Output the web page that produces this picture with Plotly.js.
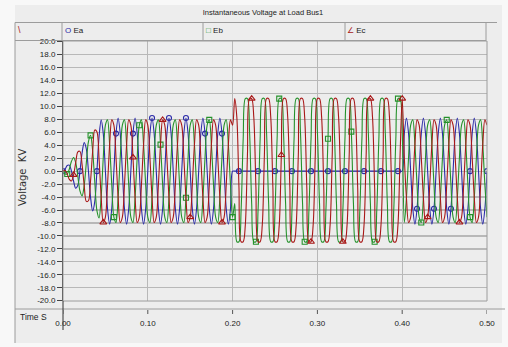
<!DOCTYPE html>
<html><head><meta charset="utf-8">
<script src="https://cdn.plot.ly/plotly-3.0.1.min.js"></script>
<style>html,body{margin:0;padding:0;background:#f8f8f8;}#chart{width:508px;height:347px;}</style>
</head><body><div id="chart"></div>
<script>
// ---- sampling of the recorded traces (seconds) ----
const T0 = 0;
const DT = 0.0025;

// ---- phase voltages (kV), one sample every DT ----
const Ea = [
0, 0.31, 0.88, 0.93, 0, -1.56, -2.64, -2.18,
0, 2.80, 4.40, 3.42, 0, -4.04, -6.16, -4.67,
0, 5.29, 7.92, 5.80, 0, -5.80, -8.20, -5.80,
0, 5.80, 8.20, 5.80, 0, -5.80, -8.20, -5.80,
0, 5.80, 8.20, 5.80, 0, -5.80, -8.20, -5.80,
0, 5.80, 8.20, 5.80, 0, -5.80, -8.20, -5.80,
0, 5.80, 8.20, 5.80, 0, -5.80, -8.20, -5.80,
0, 5.80, 8.20, 5.80, 0, -5.80, -8.20, -5.80,
0, 5.80, 8.20, 5.80, 0, -5.80, -8.20, -5.80,
0, 5.80, 8.20, 5.80, 0, -5.80, -8.20, -5.80,
0,
0, 0, 0, 0, 0, 0, 0, 0,
0, 0, 0, 0, 0, 0, 0, 0,
0, 0, 0, 0, 0, 0, 0, 0,
0, 0, 0, 0, 0, 0, 0, 0,
0, 0, 0, 0, 0, 0, 0, 0,
0, 0, 0, 0, 0, 0, 0, 0,
0, 0, 0, 0, 0, 0, 0, 0,
0, 0, 0, 0, 0, 0, 0, 0,
0, 0, 0, 0, 0, 0, 0, 0,
0, 0, 0, 0, 0, 0, 0, 0,
5.80, 8.20, 5.80, 0, -5.80, -8.20, -5.80,
0, 5.80, 8.20, 5.80, 0, -5.80, -8.20, -5.80,
0, 5.80, 8.20, 5.80, 0, -5.80, -8.20, -5.80,
0, 5.80, 8.20, 5.80, 0, -5.80, -8.20, -5.80,
0, 5.80, 8.20, 5.80, 0, -5.80, -8.20, -5.80,
0
];
const Eb = [
0, -0.43, -0.44, 0.34, 1.52, 2.12, 1.32, -0.80,
-3.05, -3.82, -2.20, 1.25, 4.57, 5.52, 3.08, -1.71,
-6.10, -7.22, -3.96, 2.12, 7.10, 7.92, 4.10, -2.12,
-7.10, -7.92, -4.10, 2.12, 7.10, 7.92, 4.10, -2.12,
-7.10, -7.92, -4.10, 2.12, 7.10, 7.92, 4.10, -2.12,
-7.10, -7.92, -4.10, 2.12, 7.10, 7.92, 4.10, -2.12,
-7.10, -7.92, -4.10, 2.12, 7.10, 7.92, 4.10, -2.12,
-7.10, -7.92, -4.10, 2.12, 7.10, 7.92, 4.10, -2.12,
-7.10, -7.92, -4.10, 2.12, 7.10, 7.92, 4.10, -2.12,
-7.10, -7.92, -4.10, 2.12, 7.10, 7.92, 4.10, -2.12,
-7.10,
-5.0, -10.9, -10.9, -6.1, 5.0, 11.2, 11.2,
6.1, -5.0, -10.9, -10.9, -6.1, 5.0, 11.2, 11.2,
6.1, -5.0, -10.9, -10.9, -6.1, 5.0, 11.2, 11.2,
6.1, -5.0, -10.9, -10.9, -6.1, 5.0, 11.2, 11.2,
6.1, -5.0, -10.9, -10.9, -6.1, 5.0, 11.2, 11.2,
6.1, -5.0, -10.9, -10.9, -6.1, 5.0, 11.2, 11.2,
6.1, -5.0, -10.9, -10.9, -6.1, 5.0, 11.2, 11.2,
6.1, -5.0, -10.9, -10.9, -6.1, 5.0, 11.2, 11.2,
6.1, -5.0, -10.9, -10.9, -6.1, 5.0, 11.2, 11.2,
6.1, -5.0, -10.9, -10.9, -6.1, 5.0, 11.2, 11.2,
6.1,
-7.92, -4.10, 2.12, 7.10, 7.92, 4.10, -2.12,
-7.10, -7.92, -4.10, 2.12, 7.10, 7.92, 4.10, -2.12,
-7.10, -7.92, -4.10, 2.12, 7.10, 7.92, 4.10, -2.12,
-7.10, -7.92, -4.10, 2.12, 7.10, 7.92, 4.10, -2.12,
-7.10, -7.92, -4.10, 2.12, 7.10, 7.92, 4.10, -2.12,
-7.10
];
const Ec = [
0, 0.11, -0.44, -1.27, -1.52, -0.57, 1.32, 2.98,
3.05, 1.02, -2.20, -4.67, -4.57, -1.48, 3.08, 6.37,
6.10, 1.94, -3.96, -7.92, -7.10, -2.12, 4.10, 7.92,
7.10, 2.12, -4.10, -7.92, -7.10, -2.12, 4.10, 7.92,
7.10, 2.12, -4.10, -7.92, -7.10, -2.12, 4.10, 7.92,
7.10, 2.12, -4.10, -7.92, -7.10, -2.12, 4.10, 7.92,
7.10, 2.12, -4.10, -7.92, -7.10, -2.12, 4.10, 7.92,
7.10, 2.12, -4.10, -7.92, -7.10, -2.12, 4.10, 7.92,
7.10, 2.12, -4.10, -7.92, -7.10, -2.12, 4.10, 7.92,
7.10, 2.12, -4.10, -7.92, -7.10, -2.12, 4.10, 7.92,
7.10,
11.2, 8.3, -2.5, -10.9, -10.9, -8.3, 2.5,
11.2, 11.2, 8.3, -2.5, -10.9, -10.9, -8.3, 2.5,
11.2, 11.2, 8.3, -2.5, -10.9, -10.9, -8.3, 2.5,
11.2, 11.2, 8.3, -2.5, -10.9, -10.9, -8.3, 2.5,
11.2, 11.2, 8.3, -2.5, -10.9, -10.9, -8.3, 2.5,
11.2, 11.2, 8.3, -2.5, -10.9, -10.9, -8.3, 2.5,
11.2, 11.2, 8.3, -2.5, -10.9, -10.9, -8.3, 2.5,
11.2, 11.2, 8.3, -2.5, -10.9, -10.9, -8.3, 2.5,
11.2, 11.2, 8.3, -2.5, -10.9, -10.9, -8.3, 2.5,
11.2, 11.2, 8.3, -2.5, -10.9, -10.9, -8.3, 2.5,
11.2,
2.12, -4.10, -7.92, -7.10, -2.12, 4.10, 7.92,
7.10, 2.12, -4.10, -7.92, -7.10, -2.12, 4.10, 7.92,
7.10, 2.12, -4.10, -7.92, -7.10, -2.12, 4.10, 7.92,
7.10, 2.12, -4.10, -7.92, -7.10, -2.12, 4.10, 7.92,
7.10, 2.12, -4.10, -7.92, -7.10, -2.12, 4.10, 7.92,
7.10
];

// ---- samples that carry a marker symbol (sample numbers) ----
const eaMarkIdx = [0, 8, 16, 25, 33, 42, 50, 58, 67, 75, 83, 92, 100, 108, 117, 125, 133, 142, 150, 158, 167, 175, 183, 192, 200];
const ebMarkIdx = [2, 13, 24, 36, 46, 58, 69, 80, 91, 102, 114, 125, 136, 147, 158, 169, 181, 192];
const ecMarkIdx = [5, 19, 33, 47, 60, 75, 89, 103, 117, 132, 145, 160, 172, 187];

const seriesNames = ['Ea', 'Eb', 'Ec'];
const chartTitle = 'Instantaneous Voltage at Load Bus1';
const yTitle = 'Voltage  KV';
const xTitle = 'Time S';
const xTickVals = [0, 0.1, 0.2, 0.3, 0.4, 0.5];
const xTickText = ['0.00', '0.10', '0.20', '0.30', '0.40', '0.50'];
const yTickVals = [20, 18, 16, 14, 12, 10, 8, 6, 4, 2, 0, -2, -4, -6, -8, -10, -12, -14, -16, -18, -20];
const yTickText = ['20.0', '18.0', '16.0', '14.0', '12.0', '10.0', '8.0', '6.0', '4.0', '2.0', '0.0', '-2.0', '-4.0', '-6.0', '-8.0', '-10.0', '-12.0', '-14.0', '-16.0', '-18.0', '-20.0'];

// ---- styling ----
const COL = {Ea: '#2a2aa8', Eb: '#24912a', Ec: '#a81818'};
const FONT = '"Liberation Sans", Arial, sans-serif';
const W = 508, H = 347;
const PL = 63, PR = 487, PT = 41, PB = 301;
const px = x => (x - PL) / (PR - PL);
const py = y => (PB - y) / (PB - PT);

function perSample(n, idx, v) { const a = new Array(n).fill(0); idx.forEach(i => { a[i] = v; }); return a; }
function trace(y, name, symbol, idx, msize) {
  const c = COL[name];
  return {
    type: 'scatter', mode: 'lines+markers', name: name, x0: T0, dx: DT, y: y,
    line: {color: c, width: 1.1, shape: 'spline', smoothing: 0.9},
    marker: {symbol: symbol, size: perSample(y.length, idx, msize), opacity: perSample(y.length, idx, 1),
             color: c, line: {color: c, width: 1.1}},
    showlegend: false, hoverinfo: 'skip'
  };
}
const data = [
  trace(Ea, seriesNames[0], 'circle-open', eaMarkIdx, 5),
  trace(Eb, seriesNames[1], 'square-open', ebMarkIdx, 5),
  trace(Ec, seriesNames[2], 'triangle-up-open', ecMarkIdx, 6)
];

const frame = '#9c9c9c';
const pline = (x0, y0, x1, y1, color, w) => ({type: 'line', xref: 'paper', yref: 'paper',
  x0: px(x0), x1: px(x1), y0: py(y0), y1: py(y1), line: {color: color || frame, width: w || 1}});
const shapes = [
  {type: 'rect', xref: 'paper', yref: 'paper', x0: px(15), x1: px(502), y0: py(343), y1: py(5),
   fillcolor: '#ededed', line: {width: 0}, layer: 'below'},
  pline(15, 22.5, 497, 22.5),
  pline(15, 22.5, 15, 343),
  pline(15, 40.5, 486, 40.5),
  pline(62, 22.5, 62, 40.5),
  pline(203, 22.5, 203, 40.5),
  pline(345, 22.5, 345, 40.5),
  pline(486, 22.5, 486, 40.5),
  pline(15, 309, 505, 309),
  {type: 'rect', xref: 'paper', yref: 'paper', x0: 0, x1: 1, y0: 0, y1: 1, line: {color: frame, width: 1}},
  pline(PL, PB, PL, 330, '#333', 1)
];
xTickVals.forEach(v => shapes.push({type: 'line', xref: 'x', yref: 'paper', x0: v, x1: v,
  y0: py(310), y1: py(314), line: {color: '#555', width: 1}}));

const ann = (x, y, text, opts) => Object.assign({xref: 'paper', yref: 'paper', x: px(x), y: py(y), text: text,
  showarrow: false, xanchor: 'left', yanchor: 'middle', font: {family: FONT, size: 8, color: '#222'}}, opts || {});
const annotations = [
  ann(16, 30, '\\', {font: {family: FONT, size: 9, color: COL.Ec}}),
  ann(63, 31, '<span style="color:' + COL.Ea + '">O</span> ' + seriesNames[0]),
  ann(204, 31, '<span style="color:' + COL.Eb + '">\u25A1</span> ' + seriesNames[1]),
  ann(345, 31, '<span style="color:' + COL.Ec + '">\u2220</span> ' + seriesNames[2]),
  ann(18, 317, xTitle, {font: {family: FONT, size: 8.5, color: '#222'}}),
  ann(22, 178, yTitle, {xanchor: 'center', textangle: -90,
    font: {family: '"DejaVu Sans", sans-serif', size: 10, color: '#333'}})
];

const layout = {
  width: W, height: H,
  margin: {l: PL, r: W - PR, t: PT, b: H - PB, pad: 0},
  paper_bgcolor: '#f8f8f8', plot_bgcolor: '#ffffff',
  title: {text: chartTitle, x: 263 / W, xanchor: 'center', y: 1 - 12.5 / H, yanchor: 'middle',
          font: {family: FONT, size: 7.5, color: '#222'}},
  xaxis: {range: [0, 0.5], tickvals: xTickVals, ticktext: xTickText, showgrid: true,
          gridcolor: '#b8b8b8', gridwidth: 1.3, zeroline: false, showline: false, ticks: '',
          ticklabelstandoff: 16, tickfont: {family: FONT, size: 8, color: '#222'}},
  yaxis: {range: [-20.05, 20.1], tickvals: yTickVals, ticktext: yTickText, showgrid: true,
          gridcolor: '#b8b8b8', gridwidth: 1.3, zeroline: false, showline: true, linecolor: '#333',
          linewidth: 1, ticks: 'outside', ticklen: 5, tickcolor: '#444', tickwidth: 1,
          tickfont: {family: FONT, size: 8, color: '#222'}},
  shapes: shapes, annotations: annotations, showlegend: false
};
Plotly.newPlot('chart', data, layout, {displayModeBar: false, staticPlot: true});
</script>
</body></html>
